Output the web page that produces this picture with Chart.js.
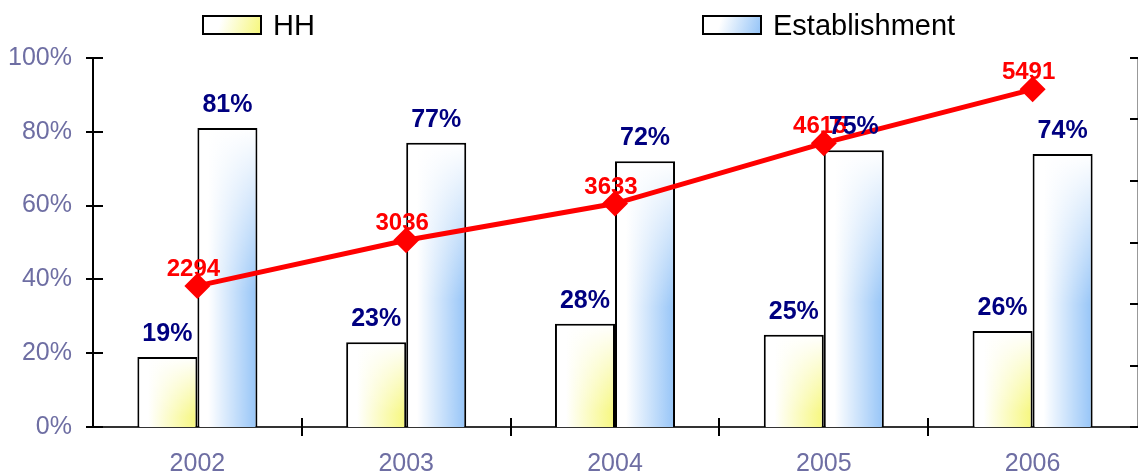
<!DOCTYPE html>
<html><head><meta charset="utf-8">
<script src="https://cdn.jsdelivr.net/npm/chart.js@4/dist/chart.umd.min.js"></script>
<style>html,body{margin:0;padding:0;background:#fff;overflow:hidden}#wrap{width:1139px;height:474px;position:relative}</style>
</head><body><div id="wrap"><canvas id="c" width="1139" height="474"></canvas></div>
<script>
const years = ['2002', '2003', '2004', '2005', '2006'];
const hhShare = [19, 23, 28, 25, 26];
const estShare = [81, 77, 72, 75, 74];
const totalCount = [2294, 3036, 3633, 4615, 5491];
const seriesNames = ['HH', 'Establishment'];

const FONT = "'Liberation Sans', Arial, sans-serif";
const AXIS_COLOR = '#6e6ea3';
const HH_COLOR = '#f6f77a';
const EST_COLOR = '#93c3f7';

const canvas = document.getElementById('c');
const ctx = canvas.getContext('2d');

function gradientFill(x0, y0, w, h, color, fadeStop) {
  const cw = Math.max(1, Math.ceil(w)), ch = Math.max(1, Math.ceil(h));
  const off = document.createElement('canvas');
  off.width = cw; off.height = ch;
  const g = off.getContext('2d');
  const hg = g.createLinearGradient(0, 0, cw, 0);
  hg.addColorStop(0, '#ffffff');
  hg.addColorStop(0.18, '#ffffff');
  hg.addColorStop(1, color);
  g.fillStyle = hg; g.fillRect(0, 0, cw, ch);
  const vg = g.createLinearGradient(0, 0, 0, ch);
  vg.addColorStop(0, 'rgba(255,255,255,1)');
  vg.addColorStop(fadeStop, 'rgba(255,255,255,0)');
  vg.addColorStop(1, 'rgba(255,255,255,0)');
  g.fillStyle = vg; g.fillRect(0, 0, cw, ch);
  const p = ctx.createPattern(off, 'no-repeat');
  p.setTransform(new DOMMatrix([1, 0, 0, 1, x0, y0]));
  return p;
}

const barFillPlugin = {
  id: 'barFill',
  afterDatasetsUpdate(chart) {
    chart.data.datasets.forEach((ds, i) => {
      if (ds.type === 'line') return;
      const meta = chart.getDatasetMeta(i);
      meta.data.forEach(el => {
        const x0 = el.x - el.width / 2;
        const h = el.base - el.y;
        el.options.backgroundColor = gradientFill(x0, el.y, el.width, h, ds.fillColor, ds.fadeStop);
      });
    });
  }
};

const labelPlugin = {
  id: 'valueLabels',
  afterDatasetsDraw(chart) {
    const c = chart.ctx;
    c.save();
    c.textAlign = 'center';
    c.textBaseline = 'alphabetic';
    chart.data.datasets.forEach((ds, i) => {
      if (ds.type !== 'line') return;
      const meta = chart.getDatasetMeta(i);
      c.fillStyle = '#ff0000';
      c.font = 'bold 24px ' + FONT;
      meta.data.forEach((pt, j) => {
        c.fillText(String(ds.data[j]), pt.x - 4, pt.y - 10);
      });
    });
    chart.data.datasets.forEach((ds, i) => {
      if (ds.type === 'line') return;
      const meta = chart.getDatasetMeta(i);
      c.fillStyle = '#000080';
      c.font = 'bold 25px ' + FONT;
      meta.data.forEach((el, j) => {
        c.fillText(ds.data[j] + '%', el.x, el.y - 16);
      });
    });
    c.restore();
  }
};

const tickPlugin = {
  id: 'crossTicks',
  afterDraw(chart) {
    const c = chart.ctx;
    const {x, y, y2} = chart.scales;
    c.save();
    c.strokeStyle = '#000';
    c.lineWidth = 2;
    c.beginPath();
    y.ticks.forEach(t => {
      const py = Math.round(y.getPixelForValue(t.value));
      c.moveTo(y.right - 7, py); c.lineTo(y.right + 10, py);
    });
    y2.ticks.forEach(t => {
      const py = Math.round(y2.getPixelForValue(t.value));
      c.moveTo(y2.left - 7, py); c.lineTo(y2.left + 1, py);
    });
    for (let i = 1; i < years.length; i++) {
      const px = Math.round((x.getPixelForValue(i - 1) + x.getPixelForValue(i)) / 2);
      c.moveTo(px, x.top - 9); c.lineTo(px, x.top + 9);
    }
    c.stroke();
    c.restore();
  }
};

const legendPlugin = {
  id: 'spreadLegend',
  afterDraw(chart) {
    const c = chart.ctx;
    const spots = [203, 703];
    const colors = [HH_COLOR, EST_COLOR];
    c.save();
    seriesNames.forEach((name, i) => {
      const bx = spots[i], by = 16, bw = 58, bh = 18;
      const hg = c.createLinearGradient(bx, by, bx + bw, by + bh);
      hg.addColorStop(0, '#ffffff');
      hg.addColorStop(0.3, '#ffffff');
      hg.addColorStop(1, colors[i]);
      c.fillStyle = hg;
      c.fillRect(bx, by, bw, bh);
      c.strokeStyle = '#000';
      c.lineWidth = 2;
      c.strokeRect(bx, by, bw, bh);
      c.fillStyle = '#000';
      c.font = '29px ' + FONT;
      c.textAlign = 'left';
      c.textBaseline = 'middle';
      c.fillText(name, bx + 70, by + bh / 2 + 2);
    });
    c.restore();
  }
};

new Chart(ctx, {
  type: 'bar',
  data: {
    labels: years,
    datasets: [
      {
        type: 'line', label: 'Total', data: totalCount, yAxisID: 'y2', order: 0,
        borderColor: '#ff0000', backgroundColor: '#ff0000', borderWidth: 5,
        pointStyle: 'rectRot', pointRadius: 13, pointBorderWidth: 0,
        pointBackgroundColor: '#ff0000', tension: 0, fill: false
      },
      {
        label: seriesNames[0], data: hhShare, yAxisID: 'y', order: 1,
        fillColor: HH_COLOR, fadeStop: 0.85,
        backgroundColor: () => '#ffffff', borderColor: '#000', borderWidth: 2
      },
      {
        label: seriesNames[1], data: estShare, yAxisID: 'y', order: 2,
        fillColor: EST_COLOR, fadeStop: 0.55,
        backgroundColor: () => '#ffffff', borderColor: '#000', borderWidth: 2
      }
    ]
  },
  options: {
    responsive: false,
    animation: false,
    events: [],
    layout: { autoPadding: false, padding: { top: 58, left: 0, right: 0, bottom: 0 } },
    plugins: { legend: { display: false }, tooltip: { enabled: false } },
    datasets: { bar: { categoryPercentage: 0.575, barPercentage: 1 } },
    scales: {
      x: {
        grid: { display: false, drawTicks: false, offset: true },
        border: { color: '#333', width: 2 },
        ticks: { color: AXIS_COLOR, font: { family: FONT, size: 25 }, padding: 22 },
        afterFit(s) { s.height = 47; }
      },
      y: {
        position: 'left', min: 0, max: 100,
        ticks: { stepSize: 20, callback: v => v + '%', color: AXIS_COLOR, font: { family: FONT, size: 25 }, padding: 21 },
        grid: { display: false, drawTicks: false },
        border: { color: '#000', width: 2 },
        afterFit(s) { s.width = 93; }
      },
      y2: {
        position: 'right', min: 0, max: 6000,
        ticks: { display: false, stepSize: 1000 },
        grid: { display: false, drawTicks: false },
        border: { color: '#999', width: 1 },
        afterFit(s) { s.width = 2; }
      }
    }
  },
  plugins: [barFillPlugin, labelPlugin, tickPlugin, legendPlugin]
});
</script></body></html>
